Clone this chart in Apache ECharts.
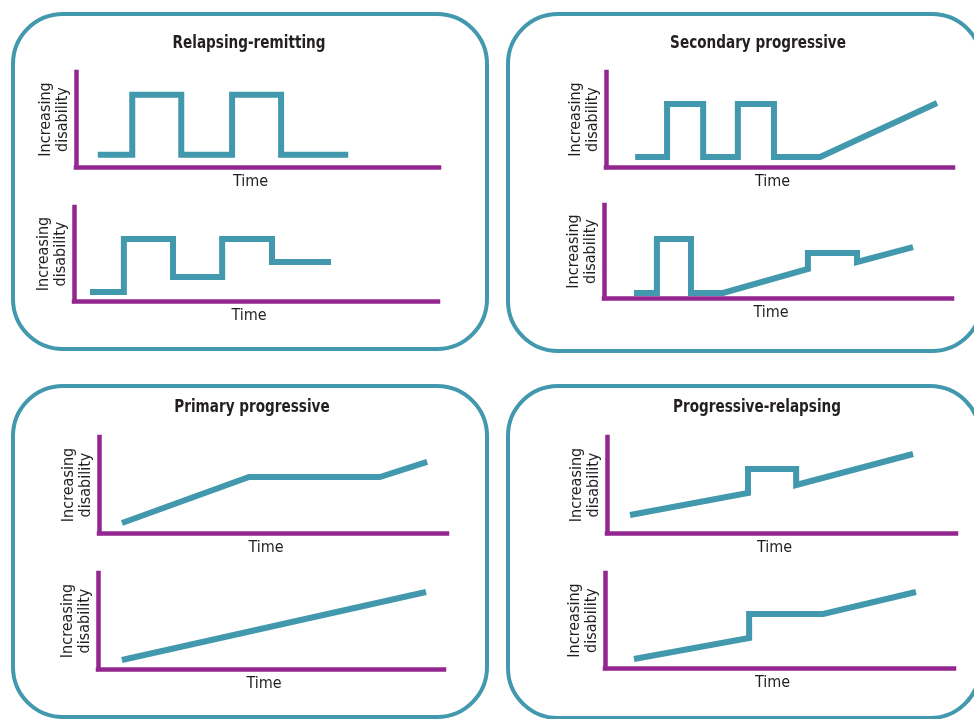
<!DOCTYPE html>
<html>
<head>
<meta charset="utf-8">
<script src="https://cdn.jsdelivr.net/npm/echarts@6/dist/echarts.min.js"></script>
<style>
  html, body { margin: 0; padding: 0; background: #ffffff; }
  #chart { width: 974px; height: 719px; }
</style>
</head>
<body>
<div id="chart"></div>
<script>
// ---- Data (time 0-100, disability 0-100 within each mini chart) ----
const panelTitles = ['Relapsing-remitting', 'Secondary progressive', 'Primary progressive', 'Progressive-relapsing'];
const xAxisLabel = 'Time';
const yAxisLabel = 'Increasing\ndisability';

const rrTop    = [[6,13],[15.5,13],[15.5,76],[29,76],[29,13],[43,13],[43,76],[56.5,76],[56.5,13],[75,13]];
const rrBottom = [[4.4,9.6],[13.7,9.6],[13.7,66],[27.2,66],[27.2,25.5],[40.7,25.5],[40.7,66],[54.4,66],[54.4,41.5],[70.6,41.5]];
const spTop    = [[8.4,10.5],[17.6,10.5],[17.6,66.3],[28,66.3],[28,10.5],[38,10.5],[38,66.3],[48.4,66.3],[48.4,10.5],[61.7,10.5],[95.4,67.4]];
const spBottom = [[8.6,5.4],[15.2,5.4],[15.2,63.4],[25,63.4],[25,5.4],[34.2,5.4],[58.6,31.2],[58.6,48.4],[72.7,48.4],[72.7,38.7],[88.8,54.8]];
const ppTop    = [[6.6,10.4],[43.1,58.3],[80.7,58.3],[94.3,74]];
const ppBottom = [[6.9,9.4],[94.8,80.2]];
const prTop    = [[6.6,18.8],[40.4,41.7],[40.4,66.7],[54.2,66.7],[54.2,50],[87.7,82.3]];
const prBottom = [[8.3,9.5],[41.3,31.6],[41.3,56.8],[62.5,56.8],[89.1,80]];

const seriesData = [rrTop, rrBottom, spTop, spBottom, ppTop, ppBottom, prTop, prBottom];

// ---- Layout & style ----
const TEAL = '#4298ac';
const PURPLE = '#93278f';
const INK = '#231f20';
const FONT = '"Liberation Sans Narrow", "DejaVu Sans Condensed", "Liberation Sans", sans-serif';

const gridBoxes = [
  {left: 76,  top: 72,  width: 363, height: 95},
  {left: 74,  top: 207, width: 364, height: 94},
  {left: 606, top: 72,  width: 347, height: 95},
  {left: 604, top: 205, width: 348, height: 93},
  {left: 99,  top: 437, width: 348, height: 96},
  {left: 98,  top: 573, width: 346, height: 96},
  {left: 607, top: 437, width: 349, height: 96},
  {left: 605, top: 573, width: 349, height: 95}
];

const panelRects = [
  {x: 13,  y: 14,  w: 474, h: 335},
  {x: 508, y: 14,  w: 474, h: 337},
  {x: 13,  y: 386, w: 474, h: 331},
  {x: 508, y: 386, w: 472, h: 332}
];
const titlePos = [[249, 43], [758, 43], [252, 407], [757, 407]];

const chart = echarts.init(document.getElementById('chart'), null, {renderer: 'canvas'});

const grids = gridBoxes.map(g => Object.assign({containLabel: false, outerBoundsMode: 'none'}, g));

const axisLineStyle = {show: true, onZero: false, lineStyle: {color: PURPLE, width: 4.5, cap: 'square'}};

const xAxes = gridBoxes.map((g, i) => ({
  type: 'value', gridIndex: i, min: 0, max: 100,
  axisLine: axisLineStyle,
  axisTick: {show: false}, axisLabel: {show: false}, splitLine: {show: false},
  name: xAxisLabel, nameLocation: 'middle', nameGap: 7,
  nameTextStyle: {color: INK, fontFamily: FONT, fontSize: 16, padding: [0, 14, 0, 0]}
}));

const yAxes = gridBoxes.map((g, i) => ({
  type: 'value', gridIndex: i, min: 0, max: 100,
  axisLine: axisLineStyle,
  axisTick: {show: false}, axisLabel: {show: false}, splitLine: {show: false},
  name: yAxisLabel, nameLocation: 'middle', nameRotate: 90, nameGap: 5,
  nameTextStyle: {color: INK, fontFamily: FONT, fontSize: 16, lineHeight: 17}
}));

const series = seriesData.map((d, i) => ({
  type: 'line', xAxisIndex: i, yAxisIndex: i, data: d,
  symbol: 'none', smooth: false, clip: false, silent: true,
  lineStyle: {color: TEAL, width: 6, join: 'miter', cap: 'butt'}
}));

const graphics = [];
panelRects.forEach(r => {
  graphics.push({
    type: 'rect', z: -1, silent: true,
    shape: {x: r.x, y: r.y, width: r.w, height: r.h, r: 50},
    style: {fill: 'none', stroke: TEAL, lineWidth: 4}
  });
});
panelTitles.forEach((t, i) => {
  graphics.push({
    type: 'text', silent: true, x: titlePos[i][0], y: titlePos[i][1], scaleX: 0.84,
    style: {text: t, fill: INK, align: 'center', verticalAlign: 'middle',
            font: 'bold 18px ' + FONT}
  });
});

chart.setOption({
  animation: false,
  backgroundColor: '#ffffff',
  grid: grids,
  xAxis: xAxes,
  yAxis: yAxes,
  series: series,
  graphic: graphics
});
</script>
</body>
</html>
